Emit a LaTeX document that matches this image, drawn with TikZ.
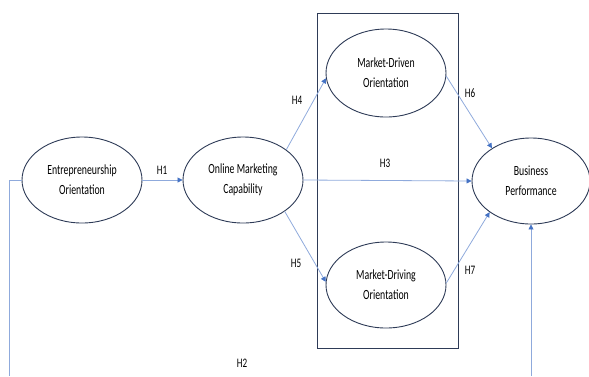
\documentclass[tikz,border=0pt]{standalone}
\usepackage{fontspec}
\setmainfont[FakeStretch=0.7]{Carlito}
\usetikzlibrary{arrows.meta,shapes.geometric}
\definecolor{edgeblue}{HTML}{8FAADC}
\definecolor{tipblue}{HTML}{4472C4}
\definecolor{outl}{HTML}{2E3B57}
\begin{document}
\begin{tikzpicture}[x=1pt,y=-1pt,
  constr/.style={ellipse,draw=outl,line width=0.9pt,fill=white,minimum width=120pt,minimum height=86pt,inner sep=0pt,align=center,font=\fontsize{14}{20}\selectfont},
  conn/.style={draw=edgeblue,line width=0.8pt,-{Triangle[length=5pt,width=5pt,color=tipblue]}},
  plainconn/.style={draw=edgeblue,line width=0.8pt},
  hlab/.style={font=\fontsize{13}{15}\selectfont}]
\useasboundingbox (0,0) rectangle (589,376);
\node[draw=outl,line width=0.8pt,minimum width=141pt,minimum height=335pt,inner sep=0pt,outer sep=0pt] (box) at (387.5,180.5) {};
\node[constr] (eo) at (82,180) {Entrepreneurship\\Orientation};
\node[constr] (omc) at (243,180) {Online Marketing\\Capability};
\node[constr,minimum height=88pt] (mdn) at (386,73) {Market-Driven\\Orientation};
\node[constr] (mdg) at (386,285) {Market-Driving\\Orientation};
\node[constr,minimum width=118pt] (bp) at (531,181) {Business\\Performance};
\coordinate (c1) at (9,376);
\coordinate (c2) at (531,376);
\draw[conn] (eo.east) -- (omc.west);
\draw[conn] (omc.35) -- (mdn.185);
\draw[conn] (omc.-37) -- (mdg.177);
\draw[conn] (omc.east) -- (bp.west);
\draw[conn] (mdn.-3) -- (bp.140);
\draw[conn] (mdg.2) -- (bp.217);
\draw[plainconn] (eo.west) -| (c1);
\draw[conn] (c2) -- (bp.south);
\node[hlab] (h1) at (162,170) {H1};
\node[hlab] (h2) at (242,363) {H2};
\node[hlab] (h3) at (385,163) {H3};
\node[hlab] (h4) at (297,100) {H4};
\node[hlab] (h5) at (296,263) {H5};
\node[hlab] (h6) at (470,93) {H6};
\node[hlab] (h7) at (470,270) {H7};
\end{tikzpicture}
\end{document}
